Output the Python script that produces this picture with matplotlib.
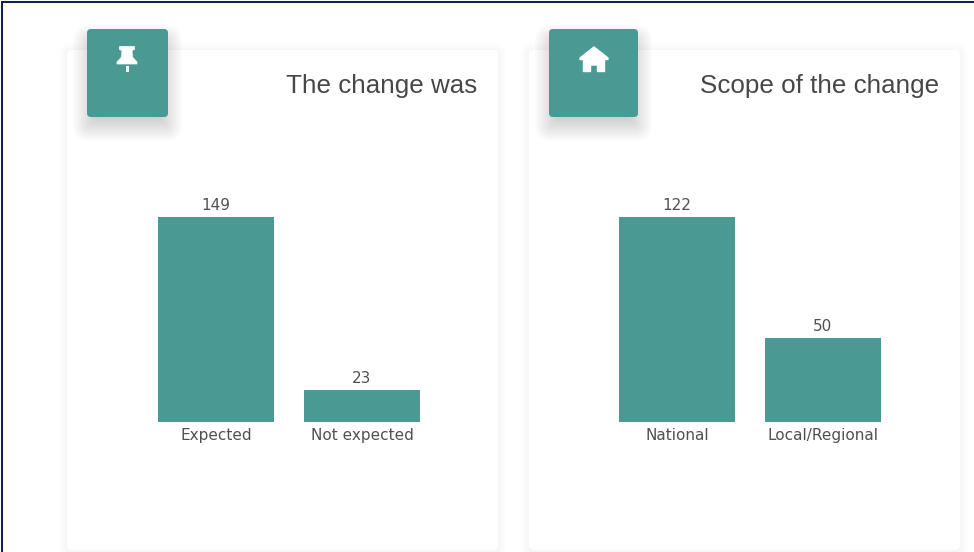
# Two small bar cards: expected change and scope of change

import matplotlib
matplotlib.use("Agg")
import matplotlib.pyplot as plt
from matplotlib.patches import FancyBboxPatch, Polygon, Rectangle

W, H = 974, 552
TEAL = "#4a9a93"
GREY = "#505050"

titles = ["The change was", "Scope of the change"]
cats_left = ["Expected", "Not expected"]
vals_left = [149, 23]
cats_right = ["National", "Local/Regional"]
vals_right = [122, 50]

fig = plt.figure(figsize=(W / 100, H / 100), dpi=100, facecolor="white")

# background layer, pixel coords with y going down
bg = fig.add_axes([0, 0, 1, 1], zorder=0)
bg.set_xlim(0, W)
bg.set_ylim(H, 0)
bg.axis("off")


def rbox(x0, y0, x1, y1, r, **kw):
    p = FancyBboxPatch((x0 + r, y0 + r), x1 - x0 - 2 * r, y1 - y0 - 2 * r,
                       boxstyle=f"round,pad={r},rounding_size={r}", **kw)
    bg.add_patch(p)


def shadow(x0, y0, x1, y1, dy, spread, alpha):
    # stacked see-through boxes, fakes a css blur
    for i in range(spread, -spread, -2):
        rbox(x0 - i, y0 + dy - i, x1 + i, y1 + dy + i, max(3 + i, 3),
             fc="black", ec="none", alpha=alpha)


def pin(cx):
    bg.add_patch(Polygon([(cx - 7.5, 46.5), (cx + 7.5, 46.5), (cx + 7.5, 49.5), (cx + 5, 50.5),
                          (cx + 5.5, 57), (cx + 10, 62), (cx + 10, 64), (cx - 10, 64),
                          (cx - 10, 62), (cx - 5.5, 57), (cx - 5, 50.5), (cx - 7.5, 49.5)],
                         fc="white", ec="white", lw=0.5, joinstyle="round", zorder=5))
    bg.add_patch(Rectangle((cx - 1.5, 66), 3, 6, fc="white", ec="none", zorder=5))


def house(cx):
    bg.add_patch(Polygon([(cx, 47), (cx + 14, 58), (cx + 14, 59.5), (cx + 10.5, 59.5),
                          (cx + 10.5, 71.5), (cx + 3.5, 71.5), (cx + 3.5, 65),
                          (cx - 3.5, 65), (cx - 3.5, 71.5), (cx - 10.5, 71.5),
                          (cx - 10.5, 59.5), (cx - 14, 59.5), (cx - 14, 58)],
                         fc="white", ec="white", lw=1, joinstyle="round", zorder=5))


# cards
for x0, x1 in [(67, 498), (529, 960)]:
    shadow(x0, 50, x1, 550, 1, 8, 0.009)
    rbox(x0, 50, x1, 550, 5, fc="white", ec="none")

# icon squares
for x0, x1 in [(87, 168), (549, 638)]:
    shadow(x0, 29, x1, 117, 10, 14, 0.016)
    rbox(x0, 29, x1, 117, 4, fc=TEAL, ec="none", zorder=4)
pin(127)
house(594)

# frame of the screenshot, no line on the right or bottom
bg.add_patch(Rectangle((0.5, 0.5), 2.5, H, fc="#101f5c", ec="none", zorder=6))
bg.add_patch(Rectangle((0.5, 0.5), W, 2.2, fc="#101f5c", ec="none", zorder=6))

# bar panels: 146 px per band, baseline at y=422, tallest bar 205 px
panels = [(143, cats_left, vals_left), (604, cats_right, vals_right)]
for px, cats, vals in panels:
    ax = fig.add_axes([px / W, (H - 422) / H, 292 / W, 205 / H], zorder=2)
    ax.patch.set_alpha(0)
    ax.bar(range(len(vals)), vals, width=116 / 146, color=TEAL)
    ax.set_xlim(-0.5, 1.5)
    ax.set_ylim(0, max(vals))
    ax.set_yticks([])
    ax.set_xticks(range(len(cats)))
    ax.set_xticklabels(cats, fontsize=11, color=GREY)
    ax.tick_params(axis="x", length=0, pad=4.5)
    for s in ax.spines.values():
        s.set_visible(False)
    for i, v in enumerate(vals):
        ax.annotate(str(v), (i, v), xytext=(0, 3), textcoords="offset points", ha="center",
                    va="bottom", fontsize=11, color=GREY, annotation_clip=False)

# card titles, right aligned
for xr, t in zip([477, 939], titles):
    bg.text(xr, 85.5, t, ha="right", va="center", fontsize=18.7, color="#474747",
            family="Liberation Sans")

fig.savefig("out.png", dpi=100)
